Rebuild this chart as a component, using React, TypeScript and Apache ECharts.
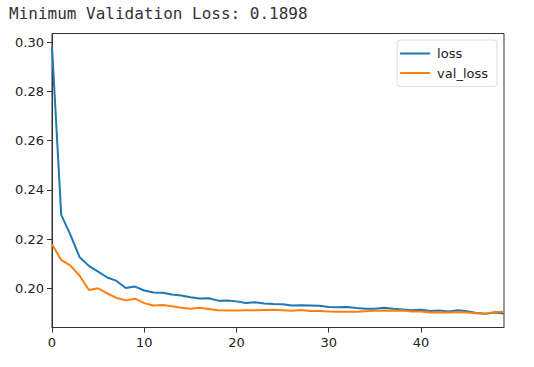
import React, { useEffect, useRef } from "react";
import * as echarts from "echarts";

const titleText = "Minimum Validation Loss: 0.1898";
const seriesNames = ["loss", "val_loss"];
const lossValues = [
  0.2981, 0.2299, 0.2218, 0.2127, 0.2092, 0.2069, 0.2045, 0.2031, 0.2002, 0.2008,
  0.1992, 0.1984, 0.1983, 0.1976, 0.1972, 0.1965, 0.196, 0.1961, 0.1951, 0.1952,
  0.1948, 0.1941, 0.1944, 0.1939, 0.1937, 0.1936, 0.1931, 0.1932, 0.1931, 0.193,
  0.1925, 0.1924, 0.1925, 0.1921, 0.1918, 0.1918, 0.1922, 0.1918, 0.1915, 0.1912,
  0.1914, 0.1909, 0.1911, 0.1907, 0.1912, 0.1908, 0.1901, 0.1898, 0.1903, 0.1899,
];
const valLossValues = [
  0.218, 0.2116, 0.2093, 0.2052, 0.1994, 0.2001, 0.198, 0.1962, 0.1952, 0.1959,
  0.1941, 0.1931, 0.1933, 0.1928, 0.1922, 0.1918, 0.1922, 0.1917, 0.1912, 0.1911,
  0.1911, 0.1912, 0.1912, 0.1913, 0.1914, 0.1912, 0.191, 0.1913, 0.1909, 0.1909,
  0.1907, 0.1906, 0.1906, 0.1906, 0.1908, 0.191, 0.1911, 0.191, 0.1911, 0.1907,
  0.1907, 0.1903, 0.1904, 0.1903, 0.1905, 0.1903, 0.19, 0.1898, 0.1905, 0.1906,
];
const xTicks = [0, 10, 20, 30, 40];
const yTicks = [0.2, 0.22, 0.24, 0.26, 0.28, 0.3];

export default function App() {
  const ref = useRef<HTMLDivElement>(null);
  useEffect(() => {
    document.body.style.margin = "0";
    if (!ref.current) return;
    const chart = echarts.init(ref.current, undefined, { renderer: "svg" });
    const font = "DejaVu Sans";
    const axisCommon = {
      axisLine: { show: true, onZero: false, lineStyle: { color: "#333", width: 1 } },
      splitLine: { show: false },
    };
    chart.setOption({
      animation: false,
      backgroundColor: "#fff",
      title: {
        text: titleText,
        left: 9,
        top: 5,
        padding: 0,
        textStyle: {
          fontFamily: "DejaVu Sans Mono",
          fontSize: 16,
          fontWeight: "normal",
          color: "#333",
        },
      },
      grid: {
        left: 52,
        right: 30,
        top: 33.5,
        bottom: 39.5,
        show: true,
        borderColor: "#333",
        borderWidth: 1,
        backgroundColor: "#fff",
      },
      legend: {
        orient: "vertical",
        right: 37,
        top: 40,
        padding: [7, 9, 7, 3],
        itemGap: 6.5,
        itemWidth: 30,
        itemHeight: 2,
        backgroundColor: "#fff",
        borderColor: "#ddd",
        borderWidth: 1,
        borderRadius: 3,
        data: seriesNames.map((n) => ({ name: n, icon: "rect" })),
        textStyle: { fontFamily: font, fontSize: 13, color: "#222", padding: [0, 0, 0, 2] },
      },
      xAxis: {
        type: "value",
        min: 0,
        max: lossValues.length - 1,
        ...axisCommon,
        axisTick: { show: true, length: 5, customValues: xTicks, lineStyle: { color: "#333" } },
        axisLabel: {
          customValues: xTicks,
          margin: 8,
          fontFamily: font,
          fontSize: 13,
          color: "#222",
        },
      },
      yAxis: {
        type: "value",
        min: 0.1842,
        max: 0.3035,
        ...axisCommon,
        axisTick: { show: true, length: 5, customValues: yTicks, lineStyle: { color: "#333" } },
        axisLabel: {
          customValues: yTicks,
          margin: 8,
          fontFamily: font,
          fontSize: 13,
          color: "#222",
          formatter: (v: number) => v.toFixed(2),
        },
      },
      series: [
        {
          name: seriesNames[0],
          type: "line",
          data: lossValues.map((v, i) => [i, v]),
          showSymbol: false,
          symbol: "none",
          lineStyle: { color: "#1f77b4", width: 2 },
          itemStyle: { color: "#1f77b4" },
        },
        {
          name: seriesNames[1],
          type: "line",
          data: valLossValues.map((v, i) => [i, v]),
          showSymbol: false,
          symbol: "none",
          lineStyle: { color: "#ff7f0e", width: 2 },
          itemStyle: { color: "#ff7f0e" },
        },
      ],
    });
    return () => chart.dispose();
  }, []);
  return <div ref={ref} style={{ width: 534, height: 367 }} />;
}
